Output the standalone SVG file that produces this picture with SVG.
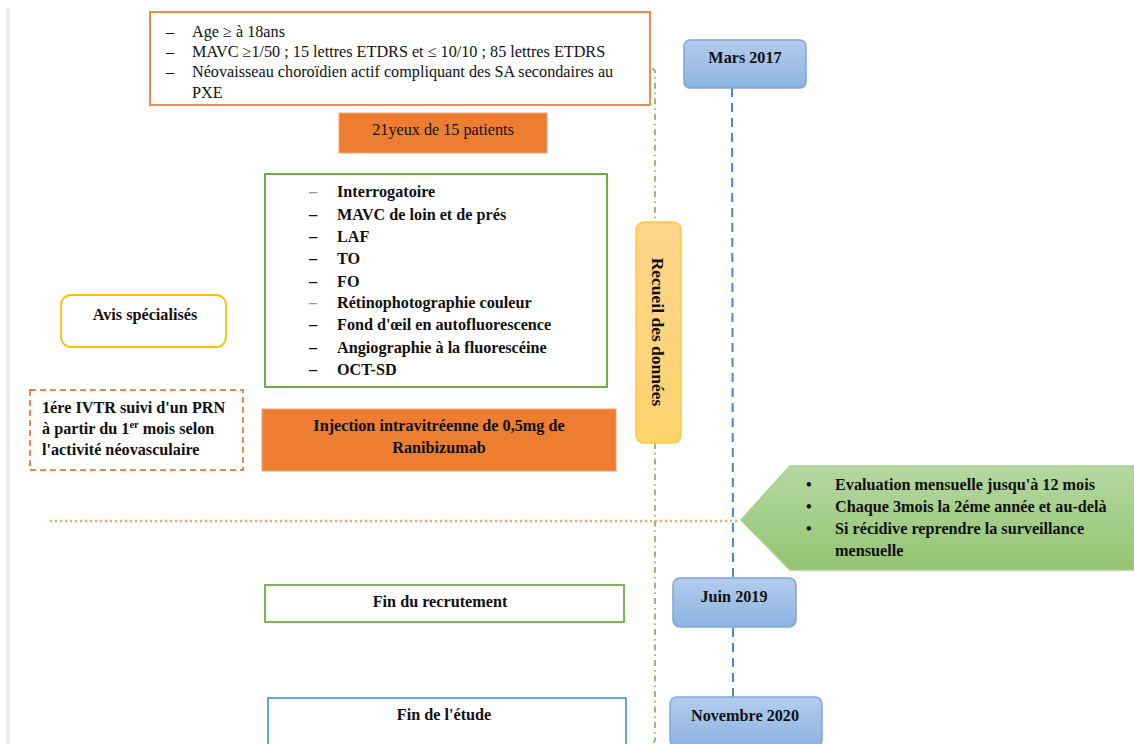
<svg xmlns="http://www.w3.org/2000/svg" width="1134" height="744" viewBox="0 0 1134 744" font-family="'Liberation Serif', 'DejaVu Serif', serif">
<defs>
<linearGradient id="gBlue" x1="0" y1="0" x2="0" y2="1"><stop offset="0" stop-color="#B3CCEC"/><stop offset="1" stop-color="#8DB3E2"/></linearGradient>
<linearGradient id="gYel" x1="0" y1="0" x2="0" y2="1"><stop offset="0" stop-color="#FFD58C"/><stop offset="1" stop-color="#FFD36E"/></linearGradient>
<linearGradient id="gGreen" x1="0" y1="0" x2="0" y2="1"><stop offset="0" stop-color="#B5D7A1"/><stop offset="1" stop-color="#93C472"/></linearGradient>
<style>
text{font-family:'Liberation Serif','DejaVu Serif',serif;fill:#111;}
.n{font-size:16.2px;}
.b{font-size:16.2px;font-weight:bold;}
.c{text-anchor:middle;}
.g{fill:#999;}
.blue{fill:url(#gBlue);stroke:#7FA7D9;stroke-width:1.5;}
</style>
</defs>
<rect width="1134" height="744" fill="#fff"/>
<line x1="8" y1="8" x2="8" y2="744" stroke="#E6E6E6" stroke-width="3"/>
<g id="connectors">
<path d="M652,69 Q656,69 655,74 L655,222 M655,443 L655,740 Q655,742 651,743" fill="none" stroke="#70AD47" stroke-width="1.5" stroke-dasharray="6,4,1.5,4"/>
<line x1="732" y1="88" x2="733" y2="578" stroke="#4A86C8" stroke-width="2" stroke-dasharray="9,6"/>
<line x1="733" y1="628" x2="733" y2="697" stroke="#4A86C8" stroke-width="2" stroke-dasharray="9,6"/>
<line x1="50" y1="521" x2="740" y2="521" stroke="#F4A261" stroke-width="2.5" stroke-dasharray="2,3"/>
</g>
<g id="criteres">
<rect x="150" y="12" width="500" height="93" fill="#fff" stroke="#F08A4B" stroke-width="2"/>
<text class="n" x="166" y="37">–</text><text class="n" x="192" y="37">Age ≥ à 18ans</text>
<text class="n" x="166" y="57">–</text><text class="n" x="192" y="57">MAVC ≥1/50 ; 15 lettres ETDRS et ≤ 10/10 ; 85 lettres ETDRS</text>
<text class="n" x="166" y="77">–</text><text class="n" x="192" y="77">Néovaisseau choroïdien actif compliquant des SA secondaires au</text>
<text class="n" x="192" y="98">PXE</text>
</g>
<g id="patients">
<rect x="339" y="113" width="208" height="40" fill="#ED7D31" stroke="#F4A57A" stroke-width="1"/>
<text class="n c" x="443" y="135">21yeux de 15 patients</text>
</g>
<g id="examens">
<rect x="265" y="174" width="342" height="213" fill="#fff" stroke="#70AD47" stroke-width="2"/>
<text class="b g" x="309" y="197">–</text><text class="b" x="337" y="197">Interrogatoire</text>
<text class="b" x="309" y="220">–</text><text class="b" x="337" y="220">MAVC de loin et de prés</text>
<text class="b" x="309" y="242">–</text><text class="b" x="337" y="242">LAF</text>
<text class="b" x="309" y="264">–</text><text class="b" x="337" y="264">TO</text>
<text class="b" x="309" y="287">–</text><text class="b" x="337" y="287">FO</text>
<text class="b g" x="309" y="308">–</text><text class="b" x="337" y="308">Rétinophotographie couleur</text>
<text class="b" x="309" y="330">–</text><text class="b" x="337" y="330">Fond d'œil en autofluorescence</text>
<text class="b" x="309" y="353">–</text><text class="b" x="337" y="353">Angiographie à la fluorescéine</text>
<text class="b" x="309" y="375">–</text><text class="b" x="337" y="375">OCT-SD</text>
</g>
<g id="avis">
<rect x="61" y="295" width="165" height="52" rx="10" fill="#fff" stroke="#FFC000" stroke-width="1.8"/>
<text class="b c" x="145" y="320">Avis spécialisés</text>
</g>
<g id="ivtr">
<rect x="30" y="390" width="213" height="80" fill="#fff" stroke="#F08A4B" stroke-width="2" stroke-dasharray="6,4"/>
<text class="b" x="42" y="413">1ére IVTR suivi d'un PRN</text>
<text class="b" x="42" y="434">à partir du 1<tspan font-size="10.5" dy="-6">er</tspan><tspan dy="6"> mois selon</tspan></text>
<text class="b" x="42" y="455">l'activité néovasculaire</text>
</g>
<g id="injection">
<rect x="262" y="409" width="354" height="62" fill="#ED7D31" stroke="#F4A57A" stroke-width="1"/>
<text class="b c" x="439" y="431">Injection intravitréenne de 0,5mg de</text>
<text class="b c" x="439" y="453">Ranibizumab</text>
</g>
<g id="recueil">
<rect x="636" y="222" width="45" height="221" rx="8" fill="url(#gYel)" stroke="#FFC733" stroke-width="1.5"/>
<text class="b c" style="font-size:17.5px" transform="translate(652,332) rotate(90)">Recueil des données</text>
</g>
<g id="mars2017">
<rect class="blue" x="684" y="40" width="122" height="48" rx="6"/>
<text class="b c" x="745" y="63">Mars 2017</text>
</g>
<g id="suivi">
<path d="M741,520 L790,466 L1134,466 L1134,570 L790,570 Z" fill="url(#gGreen)" stroke="#A9D18E" stroke-width="1.5"/>
<text class="b" x="806" y="490">•</text><text class="b" x="835" y="490">Evaluation mensuelle jusqu'à 12 mois</text>
<text class="b" x="806" y="512">•</text><text class="b" x="835" y="512">Chaque 3mois la 2éme année et au-delà</text>
<text class="b" x="806" y="534">•</text><text class="b" x="835" y="534">Si récidive reprendre la surveillance</text>
<text class="b" x="835" y="556">mensuelle</text>
</g>
<g id="recrutement">
<rect x="265" y="585" width="359" height="37" fill="#fff" stroke="#70AD47" stroke-width="1.8"/>
<text class="b c" x="440" y="607">Fin du recrutement</text>
</g>
<g id="juin2019">
<rect class="blue" x="673" y="578" width="123" height="49" rx="7"/>
<text class="b c" x="734" y="602">Juin 2019</text>
</g>
<g id="etude">
<rect x="268" y="698" width="358" height="50" fill="#fff" stroke="#5B9BD5" stroke-width="1.8"/>
<text class="b c" x="444" y="720">Fin de l'étude</text>
</g>
<g id="novembre2020">
<rect class="blue" x="670" y="697" width="152" height="50" rx="7"/>
<text class="b c" x="745" y="721">Novembre 2020</text>
</g>
</svg>
